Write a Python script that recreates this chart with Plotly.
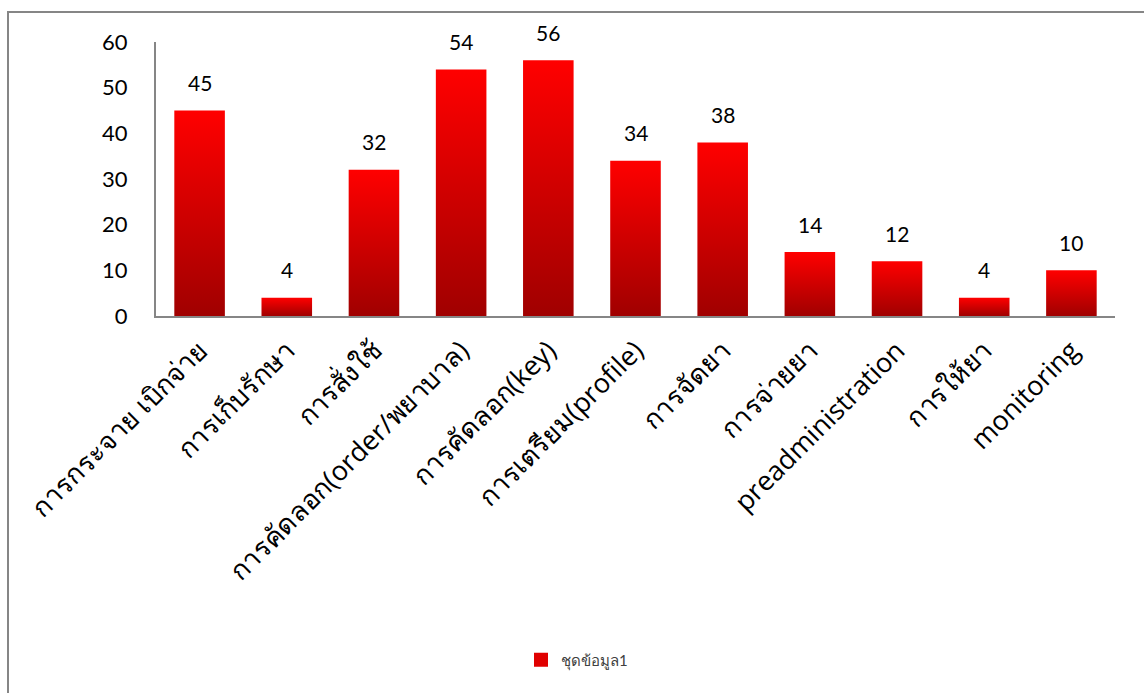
import plotly.graph_objects as go

categories = [
    "การกระจาย เบิกจ่าย",
    "การเก็บรักษา",
    "การสั่งใช้",
    "การคัดลอก(order/พยาบาล)",
    "การคัดลอก(key)",
    "การเตรียม(profile)",
    "การจัดยา",
    "การจ่ายยา",
    "preadministration",
    "การให้ยา",
    "monitoring",
]
values = [45, 4, 32, 54, 56, 34, 38, 14, 12, 4, 10]
series_name = "ชุดข้อมูล1"
y_ticks = [0, 10, 20, 30, 40, 50, 60]

BAR_HALF = 0.29
FONT = "Lato, Noto Sans, sans-serif"
LABEL_FONT = "Open Sans, Noto Sans, sans-serif"
AXIS_GRAY = "#868686"
grad = [[0, "#A00000"], [1, "#FF0000"]]

fig = go.Figure()
for i, v in enumerate(values):
    fig.add_trace(go.Scatter(
        x=[i - BAR_HALF, i + BAR_HALF, i + BAR_HALF, i - BAR_HALF, i - BAR_HALF],
        y=[0, 0, v, v, 0],
        mode="none",
        fill="toself",
        fillgradient=dict(type="vertical", colorscale=grad),
        name=series_name,
        showlegend=False,
        hoverinfo="skip",
    ))
    fig.add_annotation(
        x=i, y=v, text=str(v), showarrow=False, yshift=28,
        font=dict(family=FONT, size=21, color="#000000"),
    )

# legend key for the series (square swatch)
fig.add_trace(go.Scatter(
    x=[None], y=[None], mode="markers", name=series_name,
    marker=dict(symbol="square", size=14, color="#E00000"),
    showlegend=True,
))

# outer chart frame
fig.add_shape(type="rect", xref="paper", yref="paper",
              x0=-148 / 959, x1=1.2, y0=-2.0, y1=(316 - 12) / 274,
              line=dict(color=AXIS_GRAY, width=2), layer="below")

fig.update_layout(
    width=1144, height=693,
    margin=dict(l=156, r=29, t=42, b=377),
    plot_bgcolor="white", paper_bgcolor="white",
    font=dict(family=FONT),
    showlegend=True,
    legend=dict(
        x=(521 - 156) / 959, y=(316 - 660) / 274,
        xanchor="left", yanchor="middle",
        font=dict(family=FONT, size=15, color="#404040"),
        bgcolor="rgba(0,0,0,0)",
        itemwidth=30,
    ),
    xaxis=dict(
        range=[-0.5, len(categories) - 0.5],
        tickmode="array",
        tickvals=list(range(len(categories))),
        ticktext=categories,
        tickangle=-45,
        tickfont=dict(family=LABEL_FONT, size=27, color="#000000"),
        ticklabelstandoff=6,
        showgrid=False, zeroline=False,
        showline=True, linecolor=AXIS_GRAY, linewidth=2,
        ticks="", fixedrange=True,
    ),
    yaxis=dict(
        range=[0, 60],
        tickmode="array",
        tickvals=y_ticks,
        tickfont=dict(family=FONT, size=22, color="#000000"),
        ticklabelstandoff=22,
        showgrid=False, zeroline=False,
        showline=True, linecolor=AXIS_GRAY, linewidth=2,
        ticks="", ticklen=0, fixedrange=True,
    ),
)

fig.write_html("out.html")
